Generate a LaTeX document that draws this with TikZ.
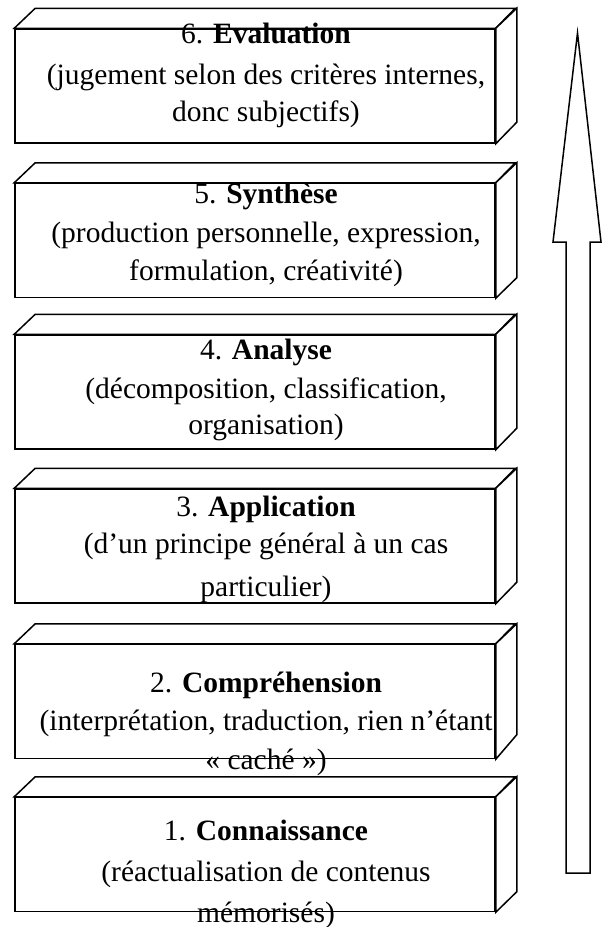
\documentclass[tikz,border=0pt]{standalone}
\usepackage{fontspec}
\setmainfont{Liberation Serif}
\begin{document}
\begin{tikzpicture}[x=1pt,y=-1pt,
  outline/.style={draw=black, line width=1.5pt, line join=miter, fill=white},
  front face/.style={outline, rectangle, minimum width=480pt, minimum height=114pt, inner sep=0pt},
  level text/.style={anchor=base, inner sep=0pt, font=\fontsize{29.5}{34}\selectfont}]
\useasboundingbox (0,0) rectangle (602,927);

% block with a top face and a right side face, 21 x 20 deep
\newcommand\levelblock[3]{%
  \node[front face] (#1) at (255,#2) {};
  \draw[outline] (#1.north west) -- ++(21,-20) -- ++(480,0) -- (#1.north east) -- cycle;
  \draw[outline] (#1.north east) -- ++(21,-20) -- ++(0,#3) -- (#1.south east) -- cycle;
}

\levelblock{b6}{86}{114}
\levelblock{b5}{240.5}{115}
\levelblock{b4}{392}{114}
\levelblock{b3}{546}{114}
\levelblock{b2}{701.5}{111}
\levelblock{b1}{854.5}{115}

% texts of the six levels
\node[level text] (t6a) at (266,43)  {6. \textbf{Evaluation}};
\node[level text] (t6b) at (266,84)  {(jugement selon des critères internes,};
\node[level text] (t6c) at (266,121) {donc subjectifs)};

\node[level text] (t5a) at (266,203) {5. \textbf{Synthèse}};
\node[level text] (t5b) at (266,242) {(production personnelle, expression,};
\node[level text] (t5c) at (266,280) {formulation, créativité)};

\node[level text] (t4a) at (266,359) {4. \textbf{Analyse}};
\node[level text] (t4b) at (266,398) {(décomposition, classification,};
\node[level text] (t4c) at (266,434) {organisation)};

\node[level text] (t3a) at (266,516) {3. \textbf{Application}};
\node[level text] (t3b) at (266,553) {(d’un principe général à un cas};
\node[level text] (t3c) at (266,596) {particulier)};

\node[level text] (t2a) at (266,692) {2. \textbf{Compréhension}};
\node[level text] (t2b) at (266,730) {(interprétation, traduction, rien n’étant};
\node[level text] (t2c) at (266,769) {« caché »)};

\node[level text] (t1a) at (266,840) {1. \textbf{Connaissance}};
\node[level text] (t1b) at (266,881) {(réactualisation de contenus};
\node[level text] (t1c) at (266,922) {mémorisés)};

% upward arrow
\coordinate (tip) at (577.5,33);
\draw[outline] (tip) -- (601,242) -- (590,242) -- (590,873) -- (566,873)
  -- (566,242) -- (553,242) -- cycle;
\end{tikzpicture}
\end{document}
